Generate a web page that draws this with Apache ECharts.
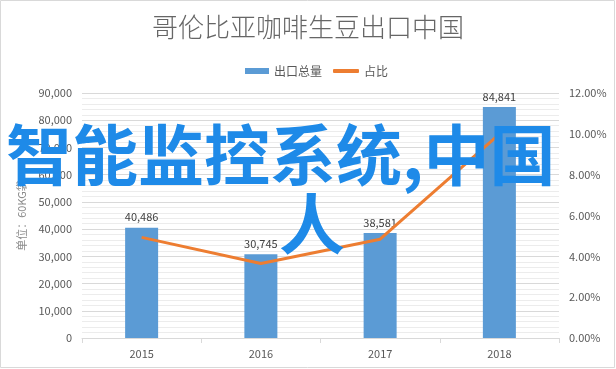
<!DOCTYPE html>
<html><head><meta charset="utf-8">
<script src="https://cdn.jsdelivr.net/npm/echarts@6/dist/echarts.min.js"></script>
<style>html,body{margin:0;padding:0;background:#fff}#c{width:616px;height:369px}</style>
</head><body><div id="c"></div>
<script>
const categories = ['2015', '2016', '2017', '2018'];
const exportTotal = [40486, 30745, 38581, 84841];
const sharePct = [4.93, 3.65, 4.84, 9.98];
const titleText = '哥伦比亚咖啡生豆出口中国';
const legendNames = ['出口总量', '占比'];
const yName = '单位：60KG袋';
const overlayLine1 = '智能监控系统,中国';
const overlayLine2 = '人';

const chart = echarts.init(document.getElementById('c'));
const font = '"Noto Sans CJK SC", "Microsoft YaHei", sans-serif';
chart.setOption({
  animation: false,
  textStyle: { fontFamily: font },
  title: { text: titleText, left: 'center', top: 9, itemGap: 0,
    textStyle: { fontSize: 26, fontWeight: 300, color: '#666666', fontFamily: font } },
  legend: [
    { top: 60, left: 240, itemWidth: 24, itemHeight: 6,
      textStyle: { fontSize: 12, color: '#595959' },
      data: [{ name: legendNames[0], icon: 'rect' }] },
    { top: 60, left: 328, itemWidth: 26, itemHeight: 4,
      textStyle: { fontSize: 12, color: '#595959' },
      data: [{ name: legendNames[1], icon: 'roundRect' }] }
  ],
  grid: { left: 82, right: 57, top: 93, bottom: 31, containLabel: false },
  xAxis: { type: 'category', data: categories, boundaryGap: true,
    axisLine: { lineStyle: { color: '#d9d9d9' } },
    axisTick: { show: true, lineStyle: { color: '#d9d9d9' } },
    axisLabel: { color: '#595959', fontSize: 11, margin: 10 } },
  yAxis: [
    { type: 'value', min: 0, max: 90000, interval: 10000,
      name: yName, nameLocation: 'middle', nameGap: 48, nameRotate: 90,
      nameTextStyle: { color: '#8c8c8c', fontSize: 11 },
      axisLabel: { color: '#595959', fontSize: 11, margin: 10,
        formatter: v => v.toLocaleString('en-US') },
      axisLine: { show: false }, axisTick: { show: false },
      splitLine: { lineStyle: { color: '#d9d9d9' } },
      minorTick: { show: false, splitNumber: 5 },
      minorSplitLine: { show: true, lineStyle: { color: '#ececec' } } },
    { type: 'value', min: 0, max: 12, interval: 2,
      axisLabel: { color: '#595959', fontSize: 11, margin: 10,
        formatter: v => v.toFixed(2) + '%' },
      axisLine: { show: false }, axisTick: { show: false }, splitLine: { show: false } }
  ],
  series: [
    { name: legendNames[0], type: 'bar', data: exportTotal, barWidth: 33,
      itemStyle: { color: '#5b9bd5' },
      label: { show: true, position: 'top', color: '#404040', fontSize: 11,
        formatter: p => p.value.toLocaleString('en-US') } },
    { name: legendNames[1], type: 'line', yAxisIndex: 1, data: sharePct,
      symbol: 'none', lineStyle: { color: '#ed7d31', width: 3 }, itemStyle: { color: '#ed7d31' },
      label: { show: true, position: 'right', color: '#404040', fontSize: 11, distance: 2,
        formatter: p => p.value.toFixed(2) + '%' } }
  ],
  graphic: [
    { type: 'rect', shape: { x: 0.5, y: 0.5, width: 614, height: 367 },
      style: { fill: 'none', stroke: '#d9d9d9', lineWidth: 1 }, z: 0 },
    { type: 'text', left: 6, top: 122, z: 100,
      style: { text: overlayLine1, fill: '#1e8ae8', font: 'bold 66px "Noto Sans CJK SC"' } },
    { type: 'text', left: 279, top: 191, z: 100,
      style: { text: overlayLine2, fill: '#1e8ae8', font: 'bold 66px "Noto Sans CJK SC"' } }
  ]
});
</script></body></html>
